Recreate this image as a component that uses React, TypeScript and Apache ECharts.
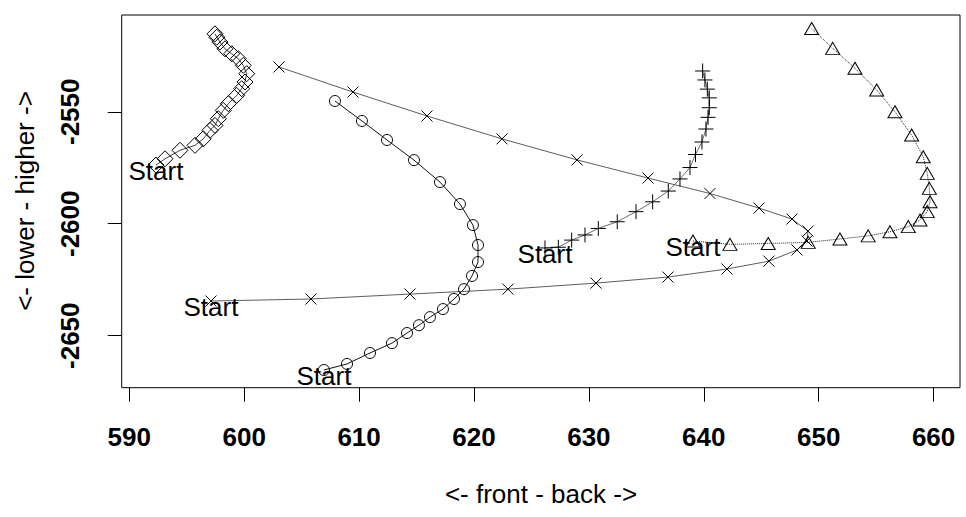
import React, { useEffect, useRef } from "react";
import * as echarts from "echarts";

// ---- data ----
const xTicks = [590, 600, 610, 620, 630, 640, 650, 660];
const yTicks = [-2650, -2600, -2550];

const diamondX = [592.32, 593.11, 594.41, 595.72, 596.44, 597.02, 597.46, 597.75, 598.18, 598.62, 599.35, 599.78, 600.07, 600.22, 599.92, 599.49, 598.91, 598.33, 597.89, 597.61, 597.46];
const diamondY = [-2573.8, -2571.0, -2567.2, -2565.0, -2562.1, -2558.3, -2556.1, -2553.1, -2549.4, -2546.4, -2542.7, -2539.7, -2536.7, -2533.0, -2529.3, -2526.3, -2524.1, -2521.9, -2518.9, -2516.7, -2515.2];

const circleX = [606.94, 608.95, 610.95, 612.86, 614.17, 615.21, 616.17, 617.30, 618.26, 619.13, 619.83, 620.35, 620.35, 619.91, 618.78, 617.04, 614.78, 612.43, 610.25, 607.90];
const circleY = [-2665.3, -2662.6, -2657.7, -2653.3, -2648.8, -2645.3, -2641.7, -2638.1, -2633.6, -2629.2, -2623.3, -2617.1, -2609.5, -2600.6, -2591.2, -2581.4, -2571.6, -2562.6, -2554.1, -2545.2];

const crossX = [597.11, 605.81, 614.43, 622.96, 630.62, 636.88, 642.02, 645.67, 648.11, 648.98, 649.07, 647.68, 644.81, 640.54, 635.15, 628.97, 622.44, 615.91, 609.47, 603.03];
const crossY = [-2634.5, -2633.6, -2631.4, -2629.2, -2626.5, -2623.8, -2620.2, -2616.7, -2611.7, -2607.7, -2603.3, -2597.9, -2593.0, -2586.5, -2579.6, -2571.5, -2562.1, -2551.9, -2541.2, -2530.0];

const plusX = [626.18, 627.34, 628.50, 629.66, 630.82, 632.47, 634.10, 635.55, 636.91, 637.93, 638.80, 639.28, 639.84, 640.19, 640.37, 640.48, 640.48, 640.31, 640.10, 639.90];
const plusY = [-2610.8, -2610.5, -2607.3, -2605.0, -2602.1, -2599.1, -2594.6, -2590.2, -2585.4, -2580.0, -2574.9, -2569.1, -2563.5, -2557.7, -2552.5, -2548.2, -2543.8, -2539.9, -2535.8, -2531.8];

const triX = [639.06, 642.28, 645.61, 649.09, 651.85, 654.31, 656.20, 657.80, 658.82, 659.45, 659.69, 659.63, 659.45, 659.10, 658.09, 656.64, 655.05, 653.16, 651.22, 649.39];
const triY = [-2607.7, -2609.2, -2608.8, -2608.3, -2606.8, -2605.4, -2603.6, -2601.3, -2598.3, -2594.6, -2590.2, -2584.2, -2577.5, -2570.1, -2560.4, -2550.0, -2540.3, -2530.6, -2521.7, -2512.8];

const startLabel = "Start";
const xTitle = "<- front - back ->";
const yTitle = "<- lower - higher ->";

const FONT = "'Liberation Sans', Arial, Helvetica, sans-serif";

function pairs(xs: number[], ys: number[]) {
  return xs.map((x, i) => {
    if (i === 0) {
      return {
        value: [x, ys[i]],
        label: {
          show: true,
          formatter: startLabel,
          position: "inside",
          offset: [0, 6],
          fontSize: 26,
          fontFamily: FONT,
          color: "#000",
        },
      };
    }
    return { value: [x, ys[i]] };
  });
}

function makeSeries(
  xs: number[],
  ys: number[],
  symbol: string,
  size: number | number[],
  lineType: string,
  lineWidth: number,
  lineColor: string
) {
  return {
    type: "line",
    data: pairs(xs, ys),
    symbol,
    symbolSize: size,
    showSymbol: true,
    showAllSymbol: true,
    smooth: false,
    lineStyle: { color: lineColor, width: lineWidth, type: lineType },
    itemStyle: { color: "rgba(0,0,0,0)", borderColor: "#000", borderWidth: 1 },
    emphasis: { disabled: true },
    z: 3,
  };
}

export default function App() {
  const ref = useRef<HTMLDivElement>(null);
  useEffect(() => {
    if (!ref.current) return;
    const chart = echarts.init(ref.current, undefined, { renderer: "svg" });
    chart.setOption({
      animation: false,
      backgroundColor: "#fff",
      textStyle: { fontFamily: FONT },
      grid: {
        left: 121.7,
        right: 6,
        top: 15,
        bottom: 129.3,
        show: true,
        borderColor: "#000",
        borderWidth: 1,
        backgroundColor: "transparent",
      },
      xAxis: {
        type: "value",
        min: 589.34,
        max: 662.3,
        axisLine: { show: false },
        splitLine: { show: false },
        axisTick: {
          show: true,
          length: 14,
          customValues: xTicks,
          lineStyle: { color: "#000", width: 1 },
        },
        axisLabel: {
          customValues: xTicks,
          formatter: (v: number) => String(v),
          fontSize: 26,
          fontWeight: "bold",
          color: "#000",
          fontFamily: FONT,
          margin: 36,
          showMinLabel: true,
          showMaxLabel: true,
        },
      },
      yAxis: {
        type: "value",
        min: -2673.2,
        max: -2506.8,
        axisLine: { show: false },
        splitLine: { show: false },
        axisTick: {
          show: true,
          length: 14,
          customValues: yTicks,
          lineStyle: { color: "#000", width: 1 },
        },
        axisLabel: {
          customValues: yTicks,
          formatter: (v: number) => String(v),
          rotate: 90,
          fontSize: 26,
          fontWeight: "bold",
          color: "#000",
          fontFamily: FONT,
          margin: 39,
          showMinLabel: true,
          showMaxLabel: true,
        },
      },
      graphic: [
        {
          type: "text",
          x: 541,
          y: 494,
          style: {
            text: xTitle,
            fontSize: 26,
            fontFamily: FONT,
            fill: "#000",
            align: "center",
            verticalAlign: "middle",
          },
        },
        {
          type: "text",
          x: 25,
          y: 201,
          rotation: Math.PI / 2,
          style: {
            text: yTitle,
            fontSize: 26,
            fontFamily: FONT,
            fill: "#000",
            align: "center",
            verticalAlign: "middle",
          },
        },
      ],
      series: [
        makeSeries(diamondX, diamondY, "diamond", 16, "solid", 0.8, "#111"),
        makeSeries(circleX, circleY, "circle", 11, "solid", 1, "#111"),
        makeSeries(crossX, crossY, "path://M0,0L10,10M10,0L0,10", 11, "solid", 0.8, "#333"),
        makeSeries(plusX, plusY, "path://M5,0L5,10M0,5L10,5", 15, "solid", 0.8, "#444"),
        makeSeries(triX, triY, "triangle", [14, 12], "dotted", 1, "#222"),
      ],
    });
    return () => chart.dispose();
  }, []);
  return (
    <div
      ref={ref}
      style={{ position: "absolute", left: 0, top: 0, width: 966, height: 517 }}
    />
  );
}
